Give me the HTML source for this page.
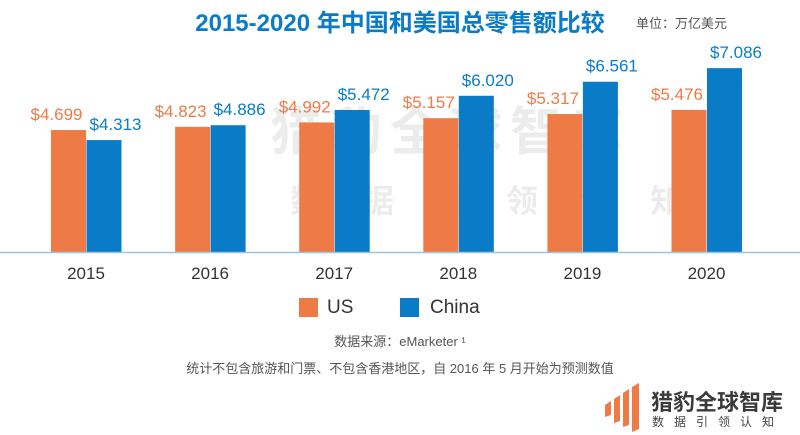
<!DOCTYPE html>
<html><head><meta charset="utf-8">
<style>
body{margin:0;width:800px;height:435px;background:#fff;overflow:hidden;font-family:"Liberation Sans","Noto Sans CJK SC",sans-serif;position:relative}
.t{position:absolute;white-space:nowrap}
</style></head><body>
<div class="t" style="left:175px;width:450px;top:3px;text-align:center;font-size:24px;font-weight:bold;color:#0a7cc7;">2015-2020 年中国和美国总零售额比较</div>
<div class="t" style="left:636px;top:13px;font-size:13px;color:#555">单位：万亿美元</div>
<svg id="chart" width="800" height="330" style="position:absolute;left:0;top:0">
<g opacity="0.07" font-family="Liberation Sans,Noto Sans CJK SC,sans-serif" font-weight="bold" fill="#000">
<text x="270" y="150" font-size="52" letter-spacing="8">猎豹全球智库</text>
<text x="290" y="212" font-size="32" letter-spacing="40">数据引领认知</text>
</g>
</svg>
<div>
<div style="position:absolute;left:299px;top:298px;width:19px;height:19px;background:#ee7b46"></div>
<div class="t" style="left:327px;top:297px;font-size:19px;color:#333">US</div>
<div style="position:absolute;left:400px;top:298px;width:19px;height:19px;background:#0a7cc7"></div>
<div class="t" style="left:430px;top:297px;font-size:19px;color:#333">China</div>
</div>
<div class="t" style="left:0;width:800px;text-align:center;top:331px;font-size:13px;color:#555">数据来源：eMarketer ¹</div>
<div class="t" style="left:0;width:800px;text-align:center;top:358px;font-size:13px;color:#555">统计不包含旅游和门票、不包含香港地区，自 2016 年 5 月开始为预测数值</div>
<svg width="40" height="50" style="position:absolute;left:603px;top:383px">
<polygon points="2,22 8,18 8,32 2,34" fill="#ee7b46"/>
<polygon points="11,16 17,12 17,38 11,40" fill="#ee7b46"/>
<polygon points="20,10 26,6 26,42 20,44" fill="#ee7b46"/>
<polygon points="29,4 36,0 36,46 29,49" fill="#ee7b46"/>
</svg>
<div class="t" style="left:651px;top:385px;font-size:22px;font-weight:bold;color:#3a3a3a">猎豹全球智库</div>
<div class="t" style="left:652px;top:413px;font-size:12px;color:#444;letter-spacing:10px">数据引领认知</div>
<script>
const years=["2015","2016","2017","2018","2019","2020"];
const usValues=[4.699,4.823,4.992,5.157,5.317,5.476];
const chinaValues=[4.313,4.886,5.472,6.020,6.561,7.086];
const svg=document.getElementById('chart');
const NS='http://www.w3.org/2000/svg';
const base=252, scale=25.95, x0=86, step=124.1, bw=35;
function yOf(v){return base-v*scale;}
function xOf(i){return x0+i*step;}
function mk(tag,attrs){const e=document.createElementNS(NS,tag);for(const k in attrs)e.setAttribute(k,attrs[k]);svg.appendChild(e);return e;}
years.forEach((yr,i)=>{
  const cx=xOf(i);
  const ub=mk('rect',{x:cx-bw,y:yOf(usValues[i]),width:bw,height:usValues[i]*scale,fill:'#ee7b46'});
  
  
  const cb=mk('rect',{x:cx+0.5,y:yOf(chinaValues[i]),width:bw,height:chinaValues[i]*scale,fill:'#0a7cc7'});
  
  
  const ul=mk('text',{x:cx-bw/2-12,y:yOf(usValues[i])-10,'text-anchor':'middle','font-size':'17',fill:'#ee7b46','font-family':'Liberation Sans,sans-serif'});
  ul.textContent='$'+usValues[i].toFixed(3);
  
  
  const cl=mk('text',{x:cx+bw/2+12,y:yOf(chinaValues[i])-10,'text-anchor':'middle','font-size':'17',fill:'#0a7cc7','font-family':'Liberation Sans,sans-serif'});
  cl.textContent='$'+chinaValues[i].toFixed(3);
  
  
  const xl=mk('text',{x:cx,y:279,'text-anchor':'middle','font-size':'17',fill:'#333','font-family':'Liberation Sans,sans-serif'});
  xl.textContent=yr;
  
  
});
const ax=mk('line',{x1:0,x2:800,y1:base+0.5,y2:base+0.5,stroke:'#9cc3e0','stroke-width':1.5});


</script>
</body></html>
